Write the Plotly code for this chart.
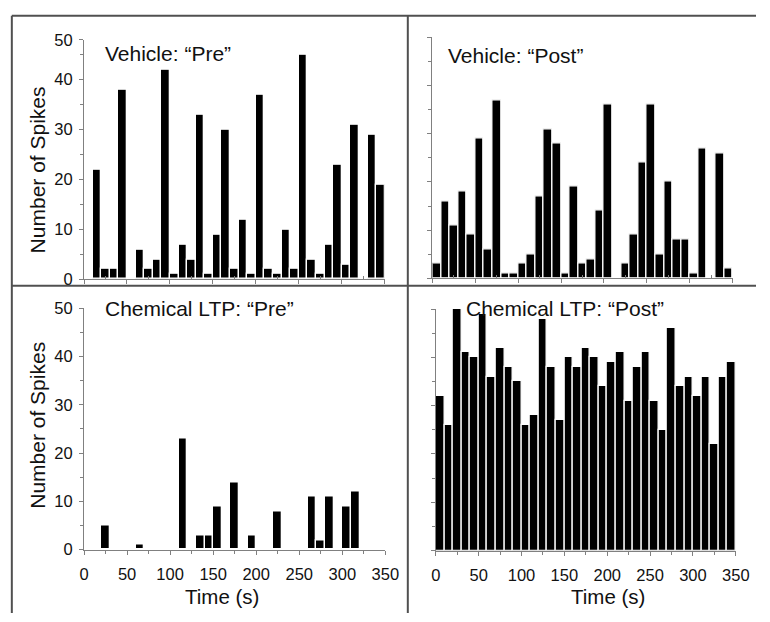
import plotly.graph_objects as go

W, H = 770, 622

time_s = [5, 15, 25, 35, 45, 55, 65, 75, 85, 95, 105, 115, 125, 135, 145, 155, 165, 175,
          185, 195, 205, 215, 225, 235, 245, 255, 265, 275, 285, 295, 305, 315, 325, 335, 345]

vehicle_pre = [0, 22, 2, 2, 38, 0, 6, 2, 4, 42, 1, 7, 4, 33, 1, 9, 30, 2, 12, 1,
               37, 2, 1, 10, 2, 45, 4, 1, 7, 23, 3, 31, 0, 29, 19]
vehicle_post = [3, 16, 11, 18, 9, 29, 6, 37, 1, 1, 3, 5, 17, 31, 28, 1, 19, 3, 4, 14,
                36, 0, 3, 9, 24, 36, 5, 20, 8, 8, 1, 27, 0, 26, 2]
cltp_pre = [0, 0, 5, 0, 0, 0, 1, 0, 0, 0, 0, 23, 0, 3, 3, 9, 0, 14, 0, 3,
            0, 0, 8, 0, 0, 0, 11, 2, 11, 0, 9, 12, 0, 0, 0]
cltp_post = [32, 26, 50, 41, 40, 49, 36, 42, 38, 35, 26, 28, 48, 38, 27, 40, 38, 42, 40, 34,
             39, 41, 31, 38, 41, 31, 25, 46, 34, 36, 32, 36, 22, 36, 39]

x_ticks = [0, 50, 100, 150, 200, 250, 300, 350]
y_ticks = [0, 10, 20, 30, 40, 50]
y_ticklabels = ["0", "10", "20", "30", "40", "50"]

titles = ["Vehicle: \u201cPre\u201d", "Vehicle: \u201cPost\u201d",
          "Chemical LTP: \u201cPre\u201d", "Chemical LTP: \u201cPost\u201d"]

FONT = "Liberation Sans, Arial, sans-serif"


def px_x(v):
    return v / W


def px_y(v):
    return 1 - v / H


# panel geometry in pixels: (x_left, x_right, y_bottom, y_top)
panels = [
    (81.0, 389.3, 278.3, 31.7),
    (438.3, 746.0, 277.3, 29.3),
    (81.0, 390.0, 556.7, 308.3),
    (441.7, 749.3, 557.7, 309.0),
]
series = [vehicle_pre, vehicle_post, cltp_pre, cltp_post]
y_top_values = [48, 50, 50, 50]

fig = go.Figure()
layout = dict(
    width=W, height=H,
    margin=dict(l=0, r=0, t=0, b=0),
    paper_bgcolor="white", plot_bgcolor="white",
    showlegend=False, bargap=0,
    font=dict(family=FONT, color="#111111"),
)

for i, (vals, geo) in enumerate(zip(series, panels)):
    n = i + 1
    xa = "x" if n == 1 else f"x{n}"
    ya = "y" if n == 1 else f"y{n}"
    fig.add_trace(go.Bar(
        x=time_s, y=vals, width=10, xaxis=xa, yaxis=ya,
        marker=dict(color="black", line=dict(color="white", width=1.3)),
    ))
    xl, xr, yb, yt = geo
    ytop = y_top_values[i]
    tv = list(y_ticks)
    if ytop != 50:
        tv[-1] = ytop
    xkey = "xaxis" if n == 1 else f"xaxis{n}"
    ykey = "yaxis" if n == 1 else f"yaxis{n}"
    layout[xkey] = dict(
        domain=[px_x(xl), px_x(xr)], anchor=ya, range=[0, 350],
        showline=True, linecolor="#808080", linewidth=1,
        ticks="outside", ticklen=4, tickcolor="#808080", tickwidth=1,
        tickvals=x_ticks, showticklabels=(n >= 3),
        tickfont=dict(size=16.5, family=FONT, color="#111111"),
        minor=dict(tickvals=[25, 75, 125, 175, 225, 275, 325],
                   ticks=("inside" if n <= 2 else "outside"), ticklen=3,
                   tickcolor="#808080"),
        showgrid=False, zeroline=False, fixedrange=True,
        ticklabelstandoff=6,
    )
    layout[ykey] = dict(
        domain=[px_y(yb), px_y(yt)], anchor=xa, range=[0, ytop],
        showline=True, linecolor="#808080", linewidth=1,
        ticks="outside", ticklen=4, tickcolor="#808080", tickwidth=1,
        tickvals=tv, ticktext=y_ticklabels, showticklabels=(n in (1, 3)),
        tickfont=dict(size=16.5, family=FONT, color="#111111"),
        minor=dict(tickvals=[5, 15, 25, 35, 45], ticks="outside", ticklen=3,
                   tickcolor="#808080"),
        showgrid=False, zeroline=False, fixedrange=True,
        ticklabelstandoff=3,
    )

fig.update_layout(**layout)

annotations = []
title_pos = [(100, 46), (452, 48), (100, 308), (471, 308)]
for t, (tx, ty) in zip(titles, title_pos):
    annotations.append(dict(
        text=t, x=px_x(tx), y=px_y(ty), xref="paper", yref="paper",
        xanchor="left", yanchor="middle", showarrow=False,
        font=dict(size=21, family=FONT, color="#111111"),
    ))
for cy in (166, 429):
    annotations.append(dict(
        text="Number of Spikes", x=px_x(33), y=px_y(cy), xref="paper", yref="paper",
        xanchor="center", yanchor="middle", showarrow=False, textangle=-90,
        font=dict(size=21, family=FONT, color="#111111"),
    ))
for cx in (222, 618):
    annotations.append(dict(
        text="Time (s)", x=px_x(cx), y=px_y(605), xref="paper", yref="paper",
        xanchor="center", yanchor="middle", showarrow=False,
        font=dict(size=20.5, family=FONT, color="#111111"),
    ))
fig.update_layout(annotations=annotations)

border = dict(color="#505050", width=2)
shapes = [
    dict(type="line", xref="paper", yref="paper", x0=px_x(7), x1=1, y0=px_y(7), y1=px_y(7), line=border),
    dict(type="line", xref="paper", yref="paper", x0=px_x(7), x1=px_x(7), y0=px_y(7), y1=0, line=border),
    dict(type="line", xref="paper", yref="paper", x0=px_x(413), x1=px_x(413), y0=px_y(7), y1=0, line=border),
    dict(type="line", xref="paper", yref="paper", x0=px_x(7), x1=1, y0=px_y(285), y1=px_y(285), line=border),
]
fig.update_layout(shapes=shapes)

fig.write_html("out.html")
